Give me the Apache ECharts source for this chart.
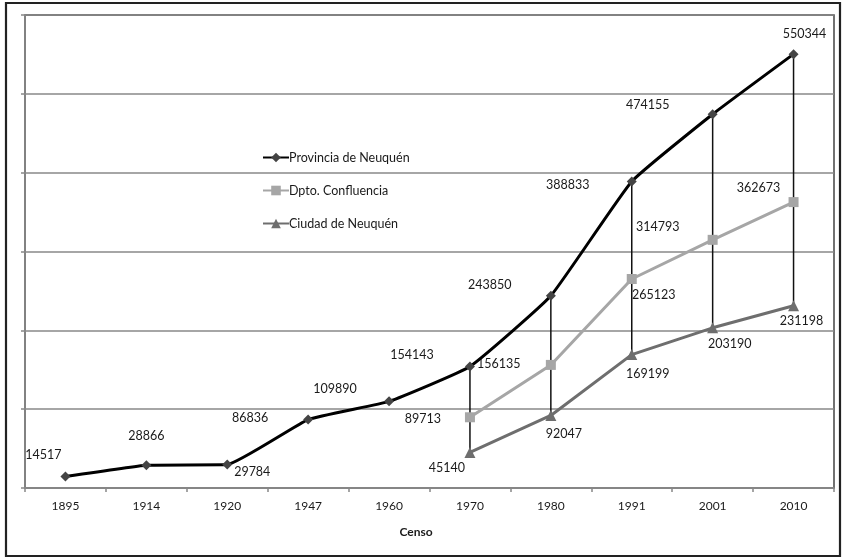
<!DOCTYPE html>
<html>
<head>
<meta charset="utf-8">
<script src="https://cdn.jsdelivr.net/npm/echarts@6/dist/echarts.min.js"></script>
<style>
html,body{margin:0;padding:0;background:#fff;}
#chart{width:847px;height:559px;}
</style>
</head>
<body>
<div id="chart"></div>
<script>
// ---- data ----
const categories = ['1895','1914','1920','1947','1960','1970','1980','1991','2001','2010'];
const provincia = [14517, 28866, 29784, 86836, 109890, 154143, 243850, 388833, 474155, 550344];
const dpto = [null, null, null, null, null, 89713, 156135, 265123, 314793, 362673];
const ciudad = [null, null, null, null, null, 45140, 92047, 169199, 203190, 231198];
const seriesNames = ['Provincia de Neuquén', 'Dpto. Confluencia', 'Ciudad de Neuquén'];
const xAxisTitle = 'Censo';

// ---- label placement (style only) ----
const provOffsets = [[-22,-22],[0,-29],[25,7],[-58,-2],[-54,-12],[-58,-12],[-61,-11],[-64,3],[-65,-9],[11,-20]];
const dptoOffsets = [null,null,null,null,null,[-47,2],[-52,-1],[22,16],[-55,-13],[-35,-14]];
const ciudOffsets = [null,null,null,null,null,[-23,16],[13,19],[16,19],[17,16],[8,15]];

const FONT = 'Lato';
function withLabels(values, offsets) {
  return values.map((v, i) => {
    if (v === null) return '-';
    return {
      value: v,
      label: {
        show: true, position: 'inside', offset: offsets[i],
        align: 'center', verticalAlign: 'middle',
        color: '#1a1a1a', fontFamily: FONT, fontSize: 12.5
      }
    };
  });
}

const dropData = [];
ciudad.forEach((c, i) => { if (c !== null) dropData.push([i, provincia[i], c]); });

const chart = echarts.init(document.getElementById('chart'), null, {renderer: 'canvas'});
chart.setOption({
  animation: false,
  backgroundColor: '#fff',
  textStyle: {fontFamily: FONT},
  grid: {left: 25, right: 13, top: 15, bottom: 71, show: true, borderColor: '#444', borderWidth: 1.5, backgroundColor: 'transparent'},
  title: {
    text: xAxisTitle, left: 411, top: 521, textAlign: 'center',
    textStyle: {fontFamily: FONT, fontSize: 12, fontWeight: 'bold', color: '#1a1a1a'}
  },
  legend: {
    data: seriesNames,
    orient: 'vertical', left: 257, top: 146,
    itemWidth: 26, itemHeight: 12, itemGap: 20,
    textStyle: {fontFamily: FONT, fontSize: 12.5, color: '#1a1a1a', padding: [0,0,0,-5]}
  },
  xAxis: {
    type: 'category', data: categories, boundaryGap: true,
    axisLine: {lineStyle: {color: '#888', width: 1.5}},
    axisTick: {show: true, length: 4, lineStyle: {color: '#888', width: 1.5}},
    axisLabel: {color: '#1a1a1a', fontFamily: FONT, fontSize: 12, margin: 12}
  },
  yAxis: {
    type: 'value', min: 0, max: 600000, interval: 100000,
    axisLine: {show: true, lineStyle: {color: '#888', width: 1.5}},
    axisTick: {show: true, length: 4, lineStyle: {color: '#888', width: 1.5}},
    axisLabel: {show: false},
    splitLine: {lineStyle: {color: '#888', width: 1.5}}
  },
  graphic: [{
    type: 'rect', silent: true, z: 100,
    shape: {x: 6, y: 3, width: 834, height: 553},
    style: {fill: 'none', stroke: '#222', lineWidth: 2.2}
  }],
  series: [
    {
      type: 'custom', name: 'drop', z: 1, silent: true,
      data: dropData,
      renderItem: function (params, api) {
        const p1 = api.coord([api.value(0), api.value(1)]);
        const p2 = api.coord([api.value(0), api.value(2)]);
        return {type: 'line', shape: {x1: p1[0], y1: p1[1], x2: p2[0], y2: p2[1]},
          style: {stroke: '#111', lineWidth: 1.5}};
      }
    },
    {
      name: seriesNames[0], type: 'line', z: 4, smooth: 0.12,
      data: withLabels(provincia, provOffsets),
      symbol: 'diamond', symbolSize: 10,
      lineStyle: {color: '#000', width: 3},
      itemStyle: {color: '#444'}
    },
    {
      name: seriesNames[1], type: 'line', z: 3,
      data: withLabels(dpto, dptoOffsets),
      symbol: 'rect', symbolSize: 10,
      lineStyle: {color: '#a6a6a6', width: 3},
      itemStyle: {color: '#a6a6a6'}
    },
    {
      name: seriesNames[2], type: 'line', z: 3,
      data: withLabels(ciudad, ciudOffsets),
      symbol: 'triangle', symbolSize: 11,
      lineStyle: {color: '#6e6e6e', width: 3},
      itemStyle: {color: '#6e6e6e'}
    }
  ]
});
</script>
</body>
</html>
